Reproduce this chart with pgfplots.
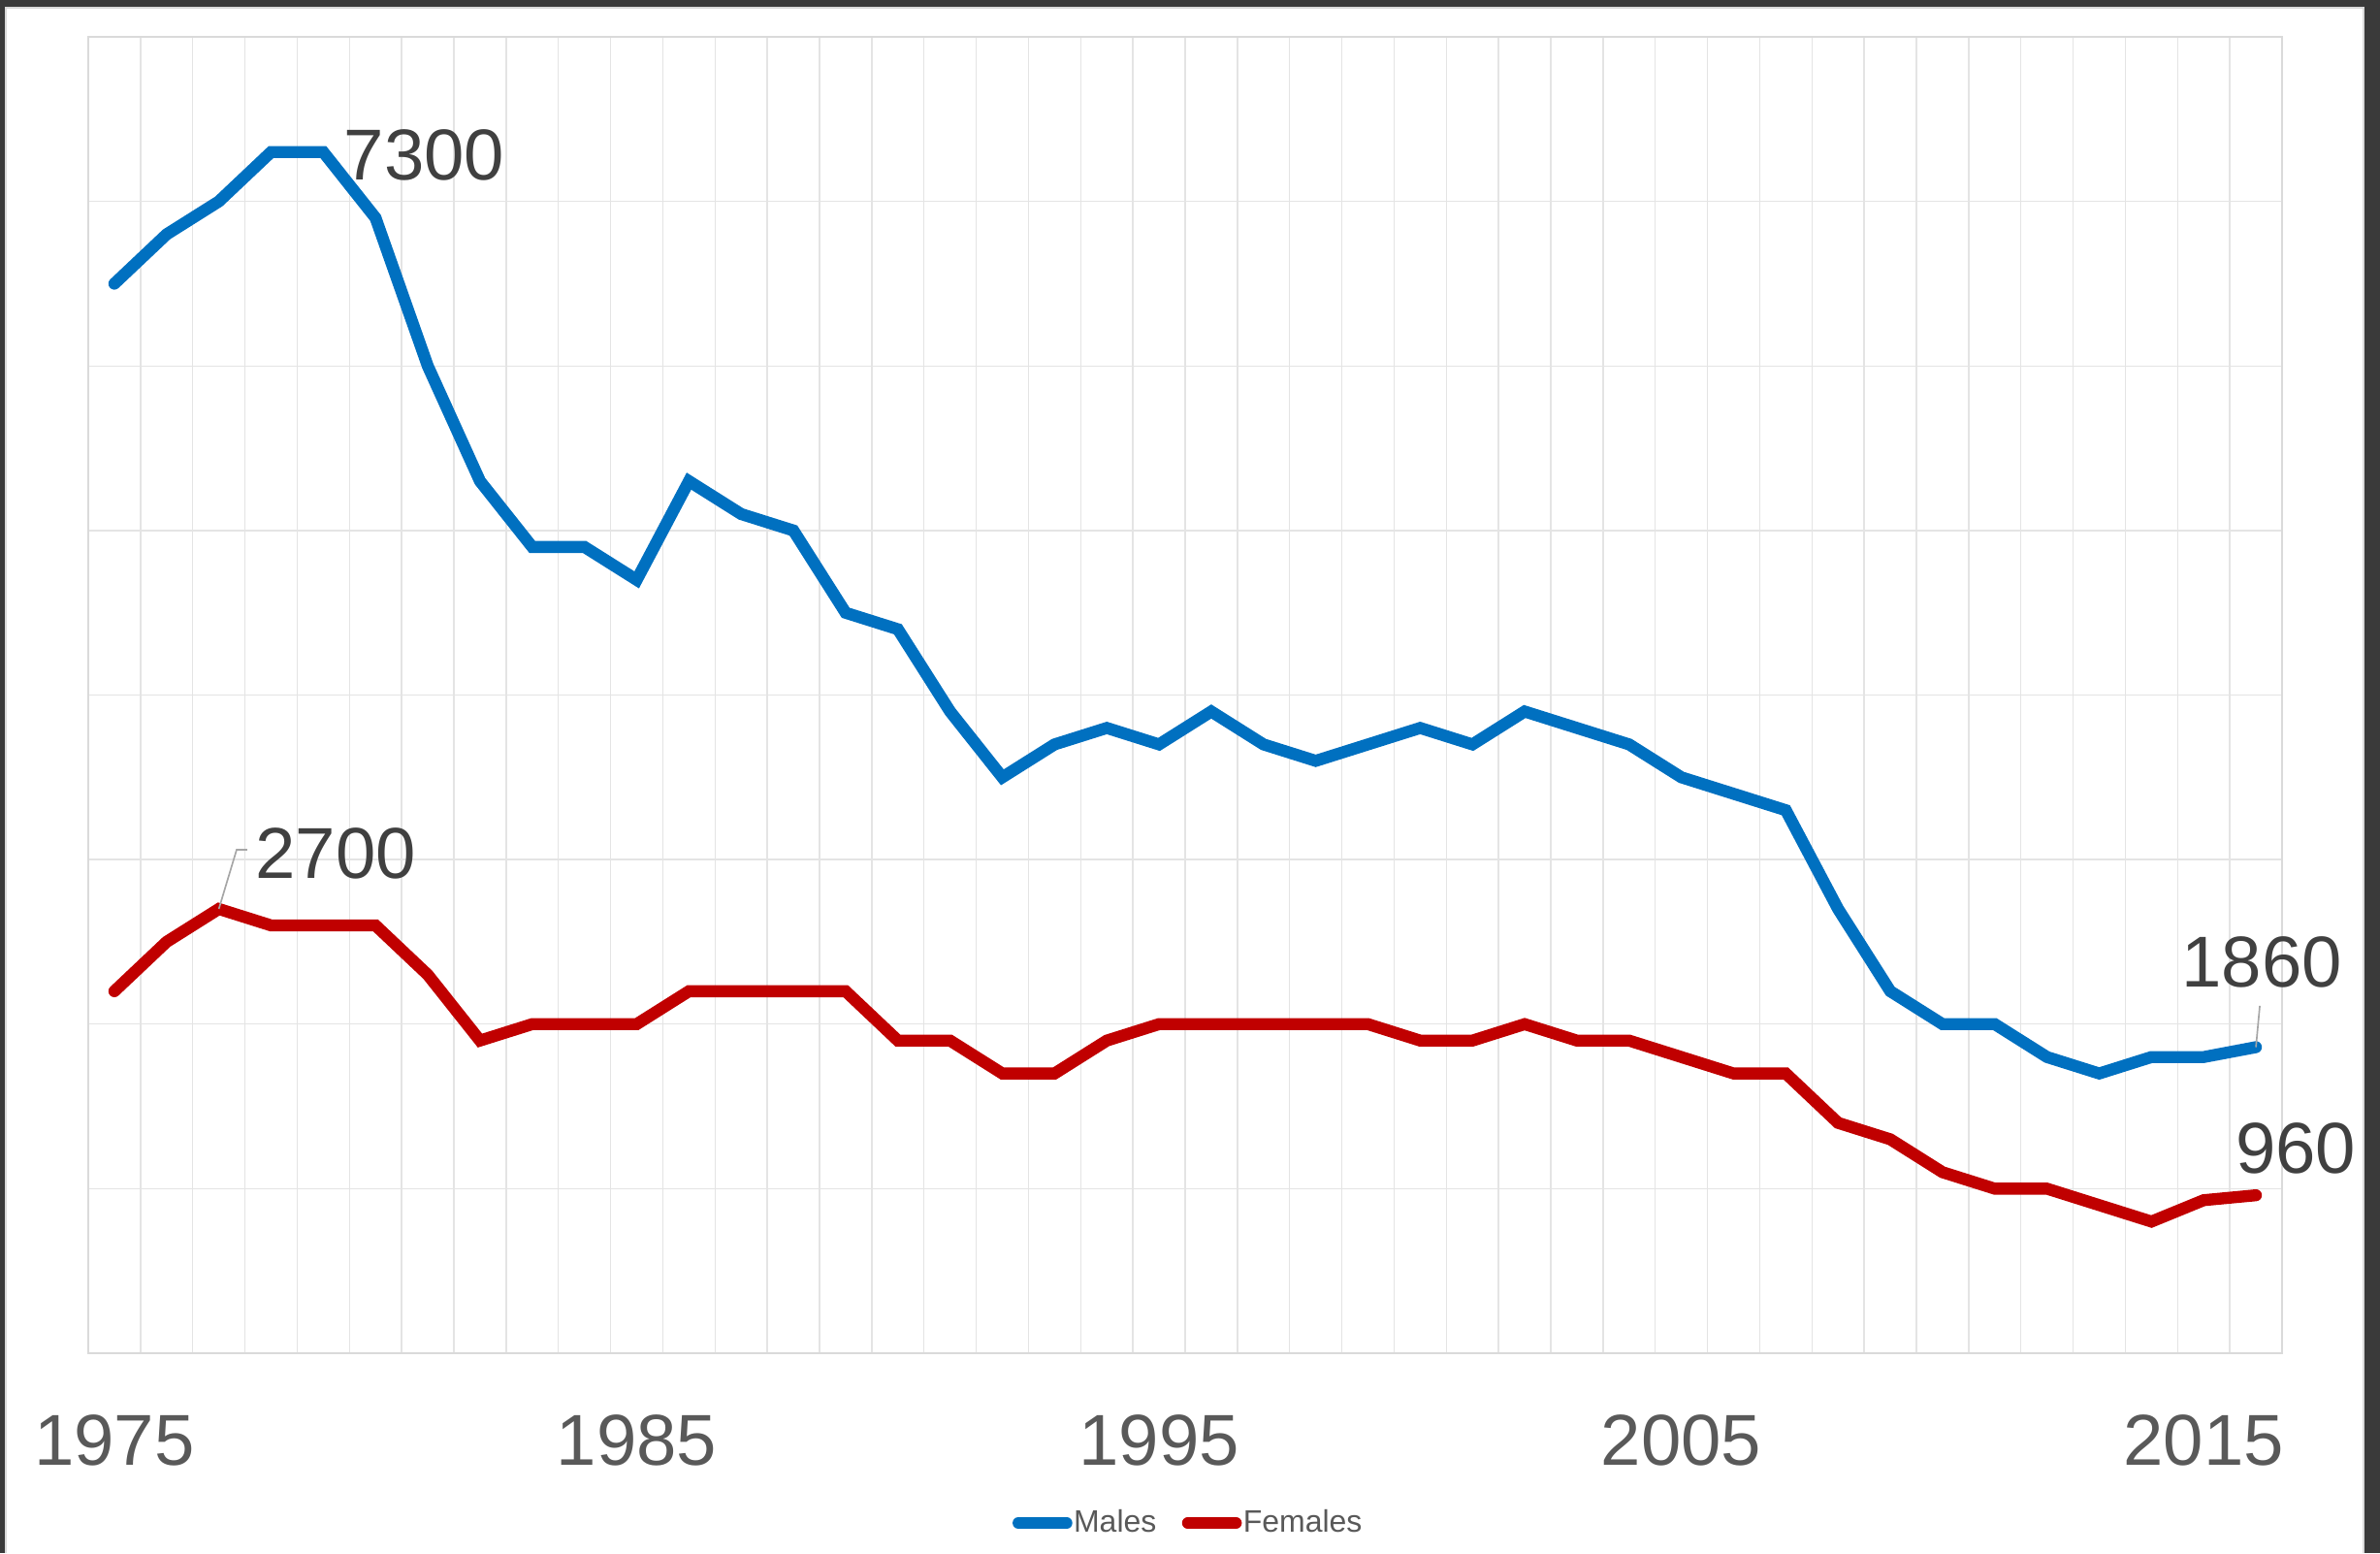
\documentclass[border=0pt]{standalone}
\usepackage{fontspec}
\setmainfont{Liberation Sans}
\usepackage{pgfplots}
\usepackage{pgfplotstable}
\pgfplotsset{compat=1.18}
\definecolor{malec}{HTML}{0070C0}
\definecolor{femc}{HTML}{C00000}
\definecolor{gridc}{HTML}{E4E4E4}
\definecolor{axisc}{HTML}{DADADA}
\definecolor{tickc}{HTML}{595959}
\definecolor{labc}{HTML}{404040}
\definecolor{framec}{HTML}{3A3A3A}
\definecolor{leadc}{HTML}{A6A6A6}

\pgfplotstableread{
year males
1975 6500
1976 6800
1977 7000
1978 7300
1979 7300
1980 6900
1981 6000
1982 5300
1983 4900
1984 4900
1985 4700
1986 5300
1987 5100
1988 5000
1989 4500
1990 4400
1991 3900
1992 3500
1993 3700
1994 3800
1995 3700
1996 3900
1997 3700
1998 3600
1999 3700
2000 3800
2001 3700
2002 3900
2003 3800
2004 3700
2005 3500
2006 3400
2007 3300
2008 2700
2009 2200
2010 2000
2011 2000
2012 1800
2013 1700
2014 1800
2015 1800
2016 1860
}\males

\pgfplotstableread{
year females
1975 2200
1976 2500
1977 2700
1978 2600
1979 2600
1980 2600
1981 2300
1982 1900
1983 2000
1984 2000
1985 2000
1986 2200
1987 2200
1988 2200
1989 2200
1990 1900
1991 1900
1992 1700
1993 1700
1994 1900
1995 2000
1996 2000
1997 2000
1998 2000
1999 2000
2000 1900
2001 1900
2002 2000
2003 1900
2004 1900
2005 1800
2006 1700
2007 1700
2008 1400
2009 1300
2010 1100
2011 1000
2012 1000
2013 900
2014 800
2015 930
2016 960
}\females

\begin{document}
\begin{tikzpicture}[x=1pt,y=1pt]
\path[use as bounding box] (0,0) rectangle (736.2,480.3);
% screenshot frame
\fill[framec] (0,478.1) rectangle (736.2,480.3);
\fill[framec] (0,0) rectangle (1.6,480.3);
\fill[framec] (731.4,0) rectangle (736.2,480.3);
\draw[axisc, line width=0.6pt] (1.6,477.8) -- (731.4,477.8);
\draw[axisc, line width=0.6pt] (1.9,0) -- (1.9,478.1);
\draw[axisc, line width=0.6pt] (731.1,0) -- (731.1,478.1);

\begin{axis}[
  at={(27.3pt,61.8pt)}, anchor=south west,
  scale only axis, width=678.6pt, height=407.1pt,
  xmin=1974.5, xmax=2016.5, ymin=0, ymax=8000,
  xtick={1975,1985,1995,2005,2015},
  minor xtick={1974.5,1975.5,...,2016.5},
  ytick={0,1000,...,8000}, yticklabels={},
  yticklabel style={text opacity=0},
  xminorgrids=true, ymajorgrids=true,
  major tick length=0pt, minor tick length=0pt,
  grid style={draw=gridc, line width=0.4pt},
  minor grid style={draw=gridc, line width=0.4pt},
  axis line style={draw=axisc, line width=0.5pt},
  /pgf/number format/assume math mode=true,
  /pgf/number format/1000 sep={},
  xticklabel style={anchor=base, yshift=-34.5pt, font=\fontsize{22.3}{26}\selectfont, text=tickc},
  clip=false,
  legend columns=2,
  legend style={at={(0.5013,-0.129)}, anchor=center, draw=none, fill=none,
    font=\fontsize{9.6}{11}\selectfont, text=tickc, inner sep=0pt,
    nodes={inner xsep=0.4pt, inner ysep=0pt},
    /tikz/every odd column/.append style={column sep=0pt},
    /tikz/every even column/.append style={column sep=7.5pt}},
  legend image code/.code={\draw[#1, line width=3.5pt, line cap=round] (1.8pt,0pt) -- (16.8pt,0pt);},
]
\addplot[malec, line width=3.7pt, line cap=round, no markers] table[x=year,y=males] {\males};
\addlegendentry{Males}
\addplot[femc, line width=3.7pt, line cap=round, no markers] table[x=year,y=females] {\females};
\addlegendentry{Females}

\node[anchor=base west, inner sep=0pt, font=\fontsize{22.3}{26}\selectfont, text=labc, xshift=6.2pt, yshift=-8.5pt] at (axis cs:1979,7300) {7300};
\draw[leadc, line width=0.5pt] (axis cs:1977,2700) -- ++(5.5pt,18.3pt) -- ++(3.3pt,0pt);
\node[anchor=base west, inner sep=0pt, font=\fontsize{22.3}{26}\selectfont, text=labc, xshift=11.2pt, yshift=9.6pt] at (axis cs:1977,2700) {2700};
\draw[leadc, line width=0.5pt] (axis cs:2016,1860) -- ++(1.2pt,12.8pt);
\node[anchor=base, inner sep=0pt, font=\fontsize{22.3}{26}\selectfont, text=labc, xshift=1.8pt, yshift=18.5pt] at (axis cs:2016,1860) {1860};
\node[anchor=base, inner sep=0pt, font=\fontsize{22.3}{26}\selectfont, text=labc, xshift=12.3pt, yshift=6.7pt] at (axis cs:2016,960) {960};
\end{axis}
\end{tikzpicture}
\end{document}
